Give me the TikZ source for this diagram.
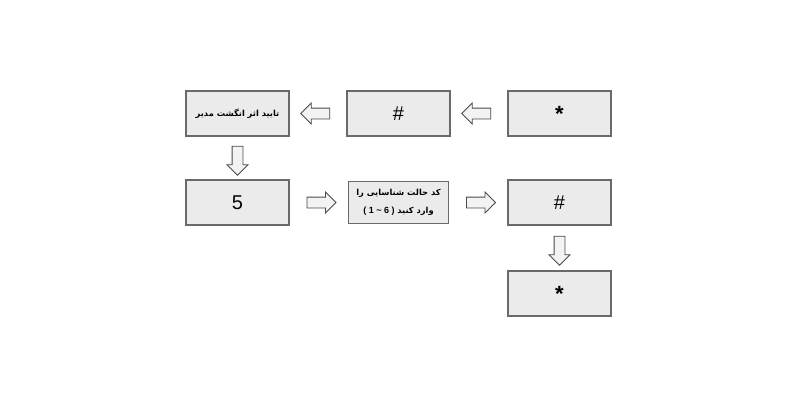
\documentclass[tikz,border=0pt]{standalone}
\usepackage{fontspec}
\setmainfont{Liberation Sans}
\newfontfamily\farsi[Script=Arabic]{DejaVu Sans}
\TeXXeTstate=1
\usepackage{tikz}
\usetikzlibrary{positioning,calc,shapes.arrows}
\definecolor{boxfill}{HTML}{EBEBEB}
\definecolor{boxline}{HTML}{6A6A6A}
\definecolor{arrowfill}{HTML}{F3F3F3}
\definecolor{arrowline}{HTML}{4A4A4A}
\tikzset{
  box/.style={draw=boxline, fill=boxfill, line width=1.2pt, minimum width=103pt,
    minimum height=45pt, inner sep=0pt, outer sep=0pt, align=center},
  bigsign/.style={font=\fontsize{20}{24}\selectfont},
  farsitext/.style={font=\farsi\bfseries\fontsize{8.3}{18}\selectfont},
  blockarrow/.style={single arrow, draw=arrowline, fill=arrowfill, line width=0.8pt,
    minimum height=29pt, inner sep=5pt, single arrow head extend=5pt,
    single arrow tip angle=90}
}
\begin{document}
\begin{tikzpicture}[x=1pt,y=-1pt]
\useasboundingbox (0,0) rectangle (800,400);
\node[box, farsitext] (tayid) at (237.5,113.5) {\beginR تایید اثر انگشت مدیر\endR};
\node[box, bigsign] (hash1) [right=58pt of tayid] {\#};
\node[box, font=\bfseries\fontsize{22}{24}\selectfont] (star1) [right=58pt of hash1] {*};
\node[box, bigsign] (five) [below=44pt of tayid] {5};
\node[box, farsitext, minimum width=100pt, minimum height=42pt] (code) at (five -| hash1)
  {\beginR کد حالت شناسایی را\endR\\
   \beginR وارد کنید \beginL{\normalfont\bfseries\fontsize{9}{18}\selectfont( 1 \textasciitilde{} 6 )}\endL\endR};
\node[box, bigsign] (hash2) at (five -| star1) {\#};
\node[box, font=\bfseries\fontsize{22}{24}\selectfont] (star2) [below=46pt of hash2] {*};
\node[blockarrow, shape border rotate=180] (a1) at ($(hash1.east)!0.5!(star1.west)$) {};
\node[blockarrow, shape border rotate=180] (a2) at ($(tayid.east)!0.5!(hash1.west)$) {};
\node[blockarrow, shape border rotate=270] (a3) at ($(tayid.south)!0.5!(five.north)$) {};
\node[blockarrow] (a4) at ($(five.east)!0.5!(code.west)$) {};
\node[blockarrow] (a5) at ($(code.east)!0.5!(hash2.west)$) {};
\node[blockarrow, shape border rotate=270] (a6) at ($(hash2.south)!0.5!(star2.north)$) {};
\end{tikzpicture}
\end{document}
